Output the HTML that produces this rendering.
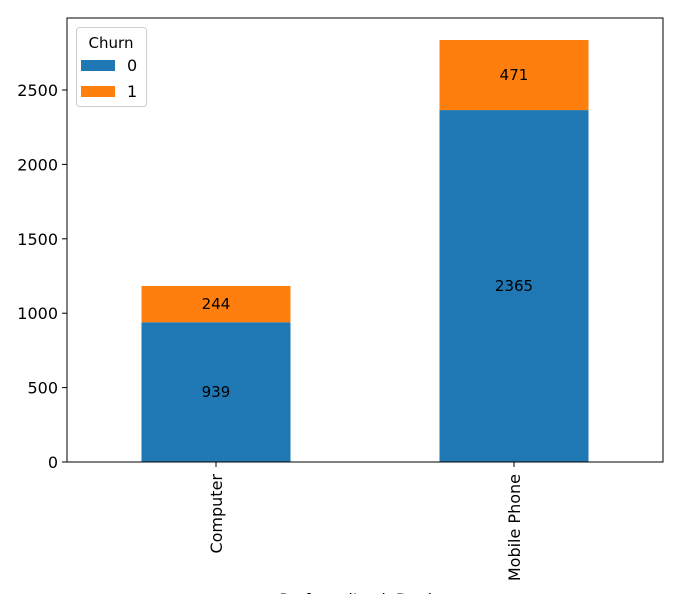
<!DOCTYPE html>
<html><head><meta charset="utf-8"><style>body{margin:0;background:#fff}svg{display:block;font-family:"DejaVu Sans","Liberation Sans",sans-serif}</style></head>
<body>
<svg id="chart" width="700" height="594" viewBox="0 0 700 594"></svg>
<script>
const categories = ["Computer", "Mobile Phone"];
const churn0 = [939, 2365];
const churn1 = [244, 471];
const yTicks = [0, 500, 1000, 1500, 2000, 2500];
const seriesNames = ["0", "1"];

const NS = "http://www.w3.org/2000/svg";
const svg = document.getElementById("chart");
const L = 67, R = 663, T = 18, B = 462;
const FS = 16;
const y = v => B - v * (372 / 2500);
const xCenter = i => L + (R - L) * (0.25 + 0.5 * i);
const barW = 149;
function mk(tag, attrs, parent) {
  const e = document.createElementNS(NS, tag);
  for (const k in attrs) e.setAttribute(k, attrs[k]);
  (parent || svg).appendChild(e);
  return e;
}
const colors = ["#1f77b4", "#ff7f0e"];
categories.forEach((c, i) => {
  const cx = xCenter(i);
  const b0 = mk("rect", {x: cx - barW / 2, y: y(churn0[i]), width: barW, height: B - y(churn0[i]), fill: colors[0]});
  
  
  const top = churn0[i] + churn1[i];
  const b1 = mk("rect", {x: cx - barW / 2, y: y(top), width: barW, height: y(churn0[i]) - y(top), fill: colors[1]});
  
  
  const l0 = mk("text", {x: cx, y: y(churn0[i] / 2) + 5, "text-anchor": "middle", "font-size": 15});
  l0.textContent = churn0[i];
  
  
  const l1 = mk("text", {x: cx, y: y(churn0[i] + churn1[i] / 2) + 5, "text-anchor": "middle", "font-size": 15});
  l1.textContent = churn1[i];
  
  
  mk("line", {x1: cx, x2: cx, y1: B, y2: B + 5, stroke: "#000"});
  const t = mk("text", {transform: `translate(${cx + 6},${B + 12}) rotate(-90)`, "text-anchor": "end", "font-size": FS});
  t.textContent = c;
  
  
});
yTicks.forEach(v => {
  mk("line", {x1: L - 5, x2: L, y1: y(v), y2: y(v), stroke: "#000"});
  const t = mk("text", {x: L - 9, y: y(v) + 6, "text-anchor": "end", "font-size": FS});
  t.textContent = v;
  
  
});
const frame = mk("rect", {x: L, y: T, width: R - L, height: B - T, fill: "none", stroke: "#000", "stroke-width": 1});


const xl = mk("text", {x: (L + R) / 2, y: 605, "text-anchor": "middle", "font-size": FS});
xl.textContent = "PreferredLoginDevice";


const lg = mk("g", {});


mk("rect", {x: 76.5, y: 27.5, width: 70, height: 79, rx: 3, fill: "#fff", stroke: "#ccc"}, lg);
const lt = mk("text", {x: 111, y: 48, "text-anchor": "middle", "font-size": 15}, lg);
lt.textContent = "Churn";
seriesNames.forEach((s, i) => {
  mk("rect", {x: 81, y: 60 + i * 26, width: 34, height: 11, fill: colors[i]}, lg);
  const e = mk("text", {x: 127, y: 71 + i * 26, "font-size": FS}, lg);
  e.textContent = s;
  
  
});
</script>
</body></html>
